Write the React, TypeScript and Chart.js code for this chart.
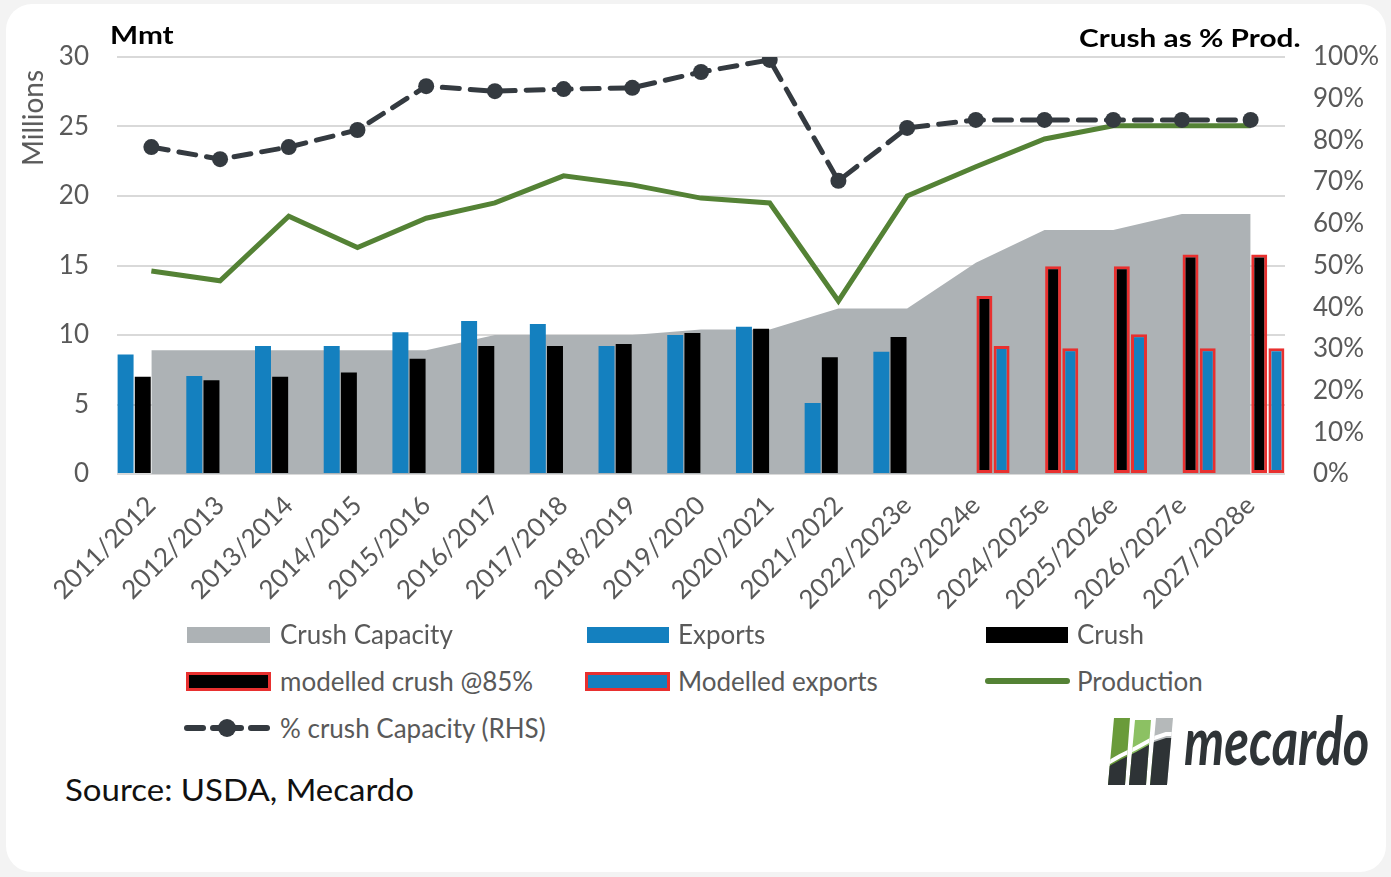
import React, { useEffect, useRef } from "react";
import { Chart, registerables } from "chart.js";

Chart.register(...registerables);

const categories = [
  "2011/2012", "2012/2013", "2013/2014", "2014/2015", "2015/2016", "2016/2017",
  "2017/2018", "2018/2019", "2019/2020", "2020/2021", "2021/2022", "2022/2023e",
  "2023/2024e", "2024/2025e", "2025/2026e", "2026/2027e", "2027/2028e",
];

const crushCapacity = [8.9, 8.9, 8.9, 8.9, 8.9, 10.0, 10.0, 10.0, 10.4, 10.4, 11.9, 11.9, 15.2, 17.55, 17.55, 18.7, 18.7];
const exportsData = [8.6, 7.05, 9.2, 9.2, 10.2, 11.0, 10.8, 9.2, 10.0, 10.6, 5.1, 8.8, null, null, null, null, null];
const crushData = [7.0, 6.75, 7.0, 7.3, 8.3, 9.2, 9.2, 9.35, 10.15, 10.45, 8.4, 9.85, null, null, null, null, null];
const modelledCrush = [null, null, null, null, null, null, null, null, null, null, null, null, 12.8, 14.95, 14.95, 15.8, 15.8];
const modelledExports = [null, null, null, null, null, null, null, null, null, null, null, null, 9.2, 9.05, 10.05, 9.05, 9.05];
const production = [14.6, 13.9, 18.55, 16.3, 18.4, 19.5, 21.45, 20.8, 19.85, 19.5, 12.45, 20.0, 22.1, 24.1, 25.05, 25.05, 25.05];
const pctCrushCapacity = [78.4, 75.5, 78.4, 82.5, 93.0, 91.8, 92.3, 92.6, 96.4, 99.3, 70.3, 83.0, 84.9, 84.9, 84.9, 84.9, 84.9];

const leftTicks = { min: 0, max: 30, step: 5 };
const rightTicks = { min: 0, max: 100, step: 10 };

const FONT = "Lato, 'Open Sans', sans-serif";
const GRAY_TEXT = "#595959";
const C_GRAY = "#adb2b5";
const C_BLUE = "#1480bf";
const C_BLACK = "#000000";
const C_RED = "#e8302f";
const C_GREEN = "#548235";
const C_DASH = "#343a40";

function ChartCanvas() {
  const ref = useRef<HTMLCanvasElement | null>(null);
  useEffect(() => {
    if (!ref.current) return;
    const barCommon = { categoryPercentage: 1.0, barPercentage: 0.93, order: 2 };
    const chart = new Chart(ref.current, {
      type: "bar",
      data: {
        labels: categories,
        datasets: [
          {
            type: "line",
            label: "Crush Capacity",
            data: crushCapacity,
            backgroundColor: C_GRAY,
            borderWidth: 0,
            pointRadius: 0,
            fill: "origin",
            tension: 0,
            order: 3,
            yAxisID: "y",
          } as any,
          { label: "Exports", data: exportsData, backgroundColor: C_BLUE, yAxisID: "y", ...barCommon },
          { label: "Crush", data: crushData, backgroundColor: C_BLACK, yAxisID: "y", ...barCommon },
          {
            label: "modelled crush @85%", data: modelledCrush, backgroundColor: C_BLACK,
            borderColor: C_RED, borderWidth: 3, borderSkipped: false, yAxisID: "y", ...barCommon,
          },
          {
            label: "Modelled exports", data: modelledExports, backgroundColor: C_BLUE,
            borderColor: C_RED, borderWidth: 3, borderSkipped: false, yAxisID: "y", ...barCommon,
          },
          {
            type: "line",
            label: "Production",
            data: production,
            borderColor: C_GREEN,
            borderWidth: 5,
            pointRadius: 0,
            fill: false,
            tension: 0,
            order: 1,
            yAxisID: "y",
          } as any,
          {
            type: "line",
            label: "% crush Capacity (RHS)",
            data: pctCrushCapacity,
            borderColor: C_DASH,
            borderWidth: 5,
            borderDash: [17, 11],
            borderCapStyle: "round",
            pointRadius: 8,
            pointBackgroundColor: C_DASH,
            pointBorderColor: C_DASH,
            pointBorderWidth: 0,
            fill: false,
            tension: 0,
            order: 0,
            yAxisID: "y1",
          } as any,
        ],
      },
      options: {
        responsive: false,
        animation: false,
        layout: { padding: { top: 57, left: 0, right: 0, bottom: 0 } },
        plugins: { legend: { display: false }, tooltip: { enabled: false }, title: { display: false } },
        scales: {
          x: {
            grid: { display: false, drawTicks: false },
            border: { display: false },
            ticks: {
              minRotation: 45,
              maxRotation: 45,
              autoSkip: false,
              padding: 16,
              color: GRAY_TEXT,
              font: { family: FONT, size: 26 },
            },
            afterFit: (s: any) => { s.height = 146; },
          },
          y: {
            position: "left",
            min: leftTicks.min,
            max: leftTicks.max,
            ticks: { stepSize: leftTicks.step, padding: 28, color: GRAY_TEXT, font: { family: FONT, size: 26 } },
            grid: { color: "#d9d9d9", lineWidth: 2, drawTicks: false },
            border: { display: false },
            afterFit: (s: any) => { s.width = 117; },
          },
          y1: {
            position: "right",
            min: rightTicks.min,
            max: rightTicks.max,
            ticks: {
              stepSize: rightTicks.step,
              padding: 28,
              color: GRAY_TEXT,
              font: { family: FONT, size: 26 },
              callback: (v: any) => v + "%",
            },
            grid: { display: false, drawTicks: false },
            border: { display: false },
            afterFit: (s: any) => { s.width = 106; },
          },
        },
      },
    });
    return () => chart.destroy();
  }, []);
  return (
    <canvas
      ref={ref}
      width={1391}
      height={620}
      style={{ position: "absolute", left: 0, top: 0, width: 1391, height: 620 }}
    />
  );
}

const legendText: React.CSSProperties = {
  position: "absolute",
  fontFamily: FONT,
  fontSize: 26,
  color: GRAY_TEXT,
  lineHeight: "30px",
  whiteSpace: "nowrap",
};

function Swatch({ x, y, w, h, bg, border }: { x: number; y: number; w: number; h: number; bg: string; border?: string }) {
  return (
    <div
      style={{
        position: "absolute",
        left: x,
        top: y,
        width: w,
        height: h,
        background: bg,
        boxSizing: "border-box",
        border: border ? `3px solid ${border}` : "none",
      }}
    />
  );
}

function Legend() {
  return (
    <>
      <Swatch x={187} y={627} w={83} h={16} bg={C_GRAY} />
      <div style={{ ...legendText, left: 280, top: 619 }}>Crush Capacity</div>
      <Swatch x={587} y={627} w={82} h={16} bg={C_BLUE} />
      <div style={{ ...legendText, left: 678, top: 619 }}>Exports</div>
      <Swatch x={986} y={627} w={82} h={16} bg={C_BLACK} />
      <div style={{ ...legendText, left: 1077, top: 619 }}>Crush</div>

      <Swatch x={186} y={672} w={85} h={19} bg={C_BLACK} border={C_RED} />
      <div style={{ ...legendText, left: 280, top: 666 }}>modelled crush @85%</div>
      <Swatch x={585} y={672} w={85} h={19} bg={C_BLUE} border={C_RED} />
      <div style={{ ...legendText, left: 678, top: 666 }}>Modelled exports</div>
      <div style={{ position: "absolute", left: 985, top: 678, width: 85, height: 6, borderRadius: 3, background: C_GREEN }} />
      <div style={{ ...legendText, left: 1077, top: 666 }}>Production</div>

      <svg style={{ position: "absolute", left: 183, top: 716 }} width={90} height={24}>
        <line x1={4} y1={12} x2={20} y2={12} stroke={C_DASH} strokeWidth={6} strokeLinecap="round" />
        <line x1={68} y1={12} x2={84} y2={12} stroke={C_DASH} strokeWidth={6} strokeLinecap="round" />
        <line x1={30} y1={12} x2={58} y2={12} stroke={C_DASH} strokeWidth={6} strokeLinecap="round" />
        <circle cx={44} cy={12} r={9} fill={C_DASH} />
      </svg>
      <div style={{ ...legendText, left: 280, top: 713 }}>% crush Capacity (RHS)</div>
    </>
  );
}

function Logo() {
  return (
    <>
      <svg style={{ position: "absolute", left: 1106, top: 716 }} width={70} height={70}>
        <defs>
          <clipPath id="mecardoBars">
            <polygon points="2,69 19,69 24,2 8,2" />
            <polygon points="23,69 40,69 45,4 29,4" />
            <polygon points="44,69 61,69 67,2 50,2" />
          </clipPath>
        </defs>
        <g clipPath="url(#mecardoBars)">
          <rect x={0} y={0} width={26} height={70} fill="#6a9b3a" />
          <rect x={26} y={0} width={21} height={70} fill="#8cc163" />
          <rect x={47} y={0} width={23} height={70} fill="#b5b9ba" />
          <polygon points="0,52 14,44 30,36 48,26 60,22 70,22 70,70 0,70" fill="#2e3336" />
          <polyline points="0,48 14,40 30,32 48,22 60,18 70,18" fill="none" stroke="#ffffff" strokeWidth={4} />
        </g>
      </svg>
      <div
        style={{
          position: "absolute",
          left: 1184,
          top: 700,
          fontFamily: FONT,
          fontWeight: 700,
          fontStyle: "italic",
          fontSize: 66,
          lineHeight: "80px",
          color: "#2f3437",
          transform: "scaleX(0.77)",
          transformOrigin: "left top",
          whiteSpace: "nowrap",
        }}
      >
        mecardo
      </div>
    </>
  );
}

const titleStyle: React.CSSProperties = {
  position: "absolute",
  fontFamily: FONT,
  fontWeight: 700,
  fontSize: 25,
  color: "#000",
  whiteSpace: "nowrap",
  lineHeight: "30px",
};

export default function App() {
  return (
    <div style={{ position: "fixed", left: 0, top: 0, width: 1391, height: 877, background: "#f3f3f3", overflow: "hidden" }}>
      <div
        style={{
          position: "absolute",
          left: 6,
          top: 4,
          width: 1380,
          height: 868,
          background: "#ffffff",
          borderRadius: 26,
        }}
      />
      <ChartCanvas />
      <div style={{ ...titleStyle, left: 110, top: 19, transform: "scaleX(1.19)", transformOrigin: "left top" }}>Mmt</div>
      <div style={{ ...titleStyle, left: 1079, top: 22, transform: "scaleX(1.19)", transformOrigin: "left top" }}>
        Crush as % Prod.
      </div>
      <div
        style={{
          position: "absolute",
          left: 32,
          top: 118,
          fontFamily: FONT,
          fontSize: 28,
          color: GRAY_TEXT,
          transform: "translate(-50%, -50%) rotate(-90deg)",
          whiteSpace: "nowrap",
        }}
      >
        Millions
      </div>
      <Legend />
      <div
        style={{
          position: "absolute",
          left: 65,
          top: 771,
          fontFamily: FONT,
          fontSize: 30,
          color: "#111",
          whiteSpace: "nowrap",
          transform: "scaleX(1.1)",
          transformOrigin: "left top",
        }}
      >
        Source: USDA, Mecardo
      </div>
      <Logo />
    </div>
  );
}
